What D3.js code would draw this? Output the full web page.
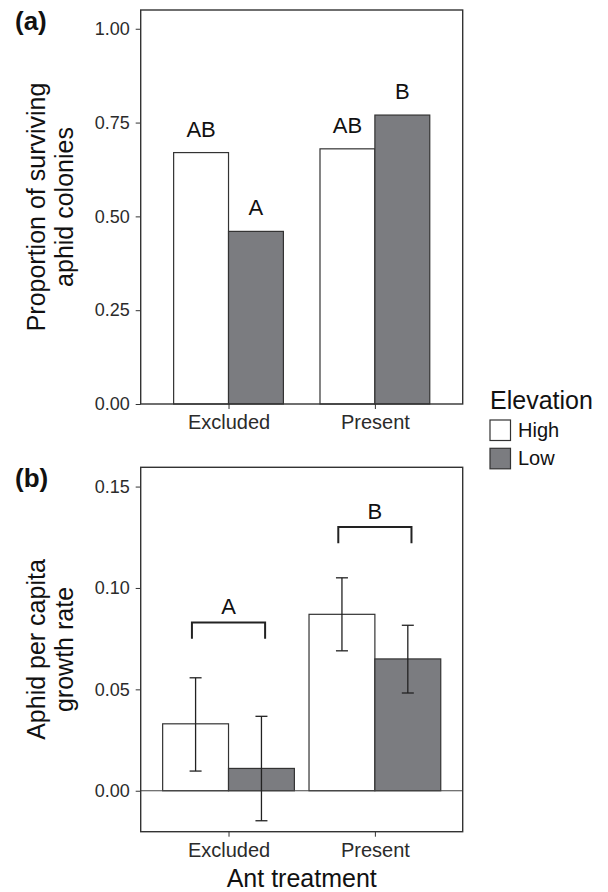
<!DOCTYPE html>
<html>
<head>
<style>
  body { margin: 0; background: #fff; }
  svg text { font-family: "Liberation Sans", Arial, Helvetica, sans-serif; }
  .tick text { fill: #2b2b2b; }
  .tick line { stroke: #333; }
</style>
</head>
<body>
<svg width="608" height="892"></svg>
<script src="https://d3js.org/d3.v7.min.js"></script>
<script>
// data
var treatments = ["Excluded", "Present"];
var elevations = ["High", "Low"];
var survHigh = [0.67, 0.68];
var survLow = [0.46, 0.77];
var survLetters = [["AB", "A"], ["AB", "B"]];
var growthHigh = [0.033, 0.087];
var growthLow = [0.011, 0.065];
var growthHighLo = [0.0097, 0.069];
var growthHighHi = [0.0557, 0.105];
var growthLowLo = [-0.0148, 0.0482];
var growthLowHi = [0.0367, 0.0816];
var groupLetters = ["A", "B"];
var bracketTop = [0.083, 0.130];
var ticksA = [0, 0.25, 0.5, 0.75, 1];
var ticksB = [0, 0.05, 0.1, 0.15];

var fill = d3.scaleOrdinal().domain(elevations).range(["#ffffff", "#7b7c80"]);
var svg = d3.select("svg");
var left = 140.7, right = 462.7;

var x = d3.scalePoint().domain(treatments).range([left, right]).padding(0.6);
var step = x.step();

function panel(top, bottom, domain, ticks, titleLines, tag, dodge) {
  var g = svg.append("g");
  var y = d3.scaleLinear().domain(domain).range([bottom, top]);
  var x1 = d3.scaleBand().domain(elevations).range([-dodge * step / 2, dodge * step / 2]);
  // y axis
  g.append("g")
    .attr("transform", "translate(" + left + ",0)")
    .call(d3.axisLeft(y).tickValues(ticks).tickFormat(d3.format(".2f")).tickSize(5).tickPadding(6))
    .call(a => a.select(".domain").remove())
    .selectAll("text").style("font-size", "18px");
  // x axis
  g.append("g")
    .attr("transform", "translate(0," + bottom + ")")
    .call(d3.axisBottom(x).tickSize(5).tickPadding(6))
    .call(a => a.select(".domain").remove())
    .selectAll("text").style("font-size", "20px");
  // y title
  var t = g.append("text")
    .attr("transform", "translate(0," + ((top + bottom) / 2) + ") rotate(-90)")
    .attr("text-anchor", "middle")
    .style("font-size", "25px")
    .attr("fill", "#111");
  titleLines.forEach(function(l, i) {
    t.append("tspan").attr("x", 0).attr("y", 45 + i * 28).text(l);
  });
  // panel tag
  g.append("text").attr("x", 15).attr("y", top + 20)
    .style("font-size", "26px").style("font-weight", "bold").attr("fill", "#111")
    .text(tag);
  return {g: g, y: y, x1: x1};
}

// ---- panel (a)
var pa = panel(10, 404, [0, 1.05], ticksA, ["Proportion of surviving", "aphid colonies"], "(a)", 0.75);
var survData = [];
treatments.forEach(function(t, i) {
  survData.push({t: t, e: "High", v: survHigh[i], lab: survLetters[i][0]});
  survData.push({t: t, e: "Low", v: survLow[i], lab: survLetters[i][1]});
});
pa.g.selectAll("rect.bar").data(survData).enter().append("rect")
  .attr("class", "bar")
  .attr("x", d => x(d.t) + pa.x1(d.e))
  .attr("width", pa.x1.bandwidth())
  .attr("y", d => pa.y(d.v))
  .attr("height", d => pa.y(0) - pa.y(d.v))
  .attr("fill", d => fill(d.e))
  .attr("stroke", "#333").attr("stroke-width", 1.2);
pa.g.selectAll("text.lab").data(survData).enter().append("text")
  .attr("class", "lab")
  .attr("x", d => x(d.t) + pa.x1(d.e) + pa.x1.bandwidth() / 2)
  .attr("y", d => pa.y(d.v) - 16)
  .attr("text-anchor", "middle")
  .style("font-size", "22px").attr("fill", "#111")
  .text(d => d.lab);
pa.g.append("rect").attr("x", left).attr("y", 10).attr("width", right - left).attr("height", 394)
  .attr("fill", "none").attr("stroke", "#333").attr("stroke-width", 1.4);

// ---- panel (b)
var pb = panel(467.3, 831.7, [-0.0202, 0.1595], ticksB, ["Aphid per capita", "growth rate"], "(b)", 0.9);
var growthData = [];
treatments.forEach(function(t, i) {
  growthData.push({t: t, e: "High", v: growthHigh[i], lo: growthHighLo[i], hi: growthHighHi[i]});
  growthData.push({t: t, e: "Low", v: growthLow[i], lo: growthLowLo[i], hi: growthLowHi[i]});
});
pb.g.selectAll("rect.bar").data(growthData).enter().append("rect")
  .attr("class", "bar")
  .attr("x", d => x(d.t) + pb.x1(d.e))
  .attr("width", pb.x1.bandwidth())
  .attr("y", d => pb.y(Math.max(0, d.v)))
  .attr("height", d => Math.abs(pb.y(0) - pb.y(d.v)))
  .attr("fill", d => fill(d.e))
  .attr("stroke", "#333").attr("stroke-width", 1.2);
pb.g.append("line")
  .attr("x1", left).attr("x2", right)
  .attr("y1", pb.y(0)).attr("y2", pb.y(0))
  .attr("stroke", "#444").attr("stroke-width", 1.2);
// error bars
var cap = 6;
var eb = pb.g.selectAll("g.err").data(growthData).enter().append("g")
  .attr("class", "err")
  .attr("transform", d => "translate(" + (x(d.t) + pb.x1(d.e) + pb.x1.bandwidth() / 2) + ",0)")
  .attr("stroke", "#222").attr("stroke-width", 1.3);
eb.append("line").attr("y1", d => pb.y(d.lo)).attr("y2", d => pb.y(d.hi));
eb.append("line").attr("x1", -cap).attr("x2", cap).attr("y1", d => pb.y(d.lo)).attr("y2", d => pb.y(d.lo));
eb.append("line").attr("x1", -cap).attr("x2", cap).attr("y1", d => pb.y(d.hi)).attr("y2", d => pb.y(d.hi));
// brackets
treatments.forEach(function(t, i) {
  var x0 = x(t) - 0.25 * step, x2 = x(t) + 0.25 * step;
  var yt = pb.y(bracketTop[i]), yb = pb.y(bracketTop[i] - 0.008);
  pb.g.append("path")
    .attr("d", "M" + x0 + "," + yb + "V" + yt + "H" + x2 + "V" + yb)
    .attr("fill", "none").attr("stroke", "#222").attr("stroke-width", 2);
  pb.g.append("text")
    .attr("x", x(t)).attr("y", yt - 8)
    .attr("text-anchor", "middle")
    .style("font-size", "22px").attr("fill", "#111")
    .text(groupLetters[i]);
});
pb.g.append("rect").attr("x", left).attr("y", 467.3).attr("width", right - left).attr("height", 831.7 - 467.3)
  .attr("fill", "none").attr("stroke", "#333").attr("stroke-width", 1.4);

// x title
svg.append("text")
  .attr("x", (left + right) / 2).attr("y", 887)
  .attr("text-anchor", "middle")
  .style("font-size", "25px").attr("fill", "#111")
  .text("Ant treatment");

// legend
var leg = svg.append("g").attr("transform", "translate(490,0)");
leg.append("text").attr("x", 0).attr("y", 409)
  .style("font-size", "25px").attr("fill", "#111").text("Elevation");
var item = leg.selectAll("g.item").data(elevations).enter().append("g")
  .attr("class", "item")
  .attr("transform", (d, i) => "translate(0," + (420 + i * 28.3) + ")");
item.append("rect").attr("width", 20.5).attr("height", 20.5)
  .attr("fill", d => fill(d)).attr("stroke", "#333").attr("stroke-width", 1.2);
item.append("text").attr("x", 28).attr("y", 17)
  .style("font-size", "20px").attr("fill", "#111").text(d => d);
</script>
</body>
</html>
